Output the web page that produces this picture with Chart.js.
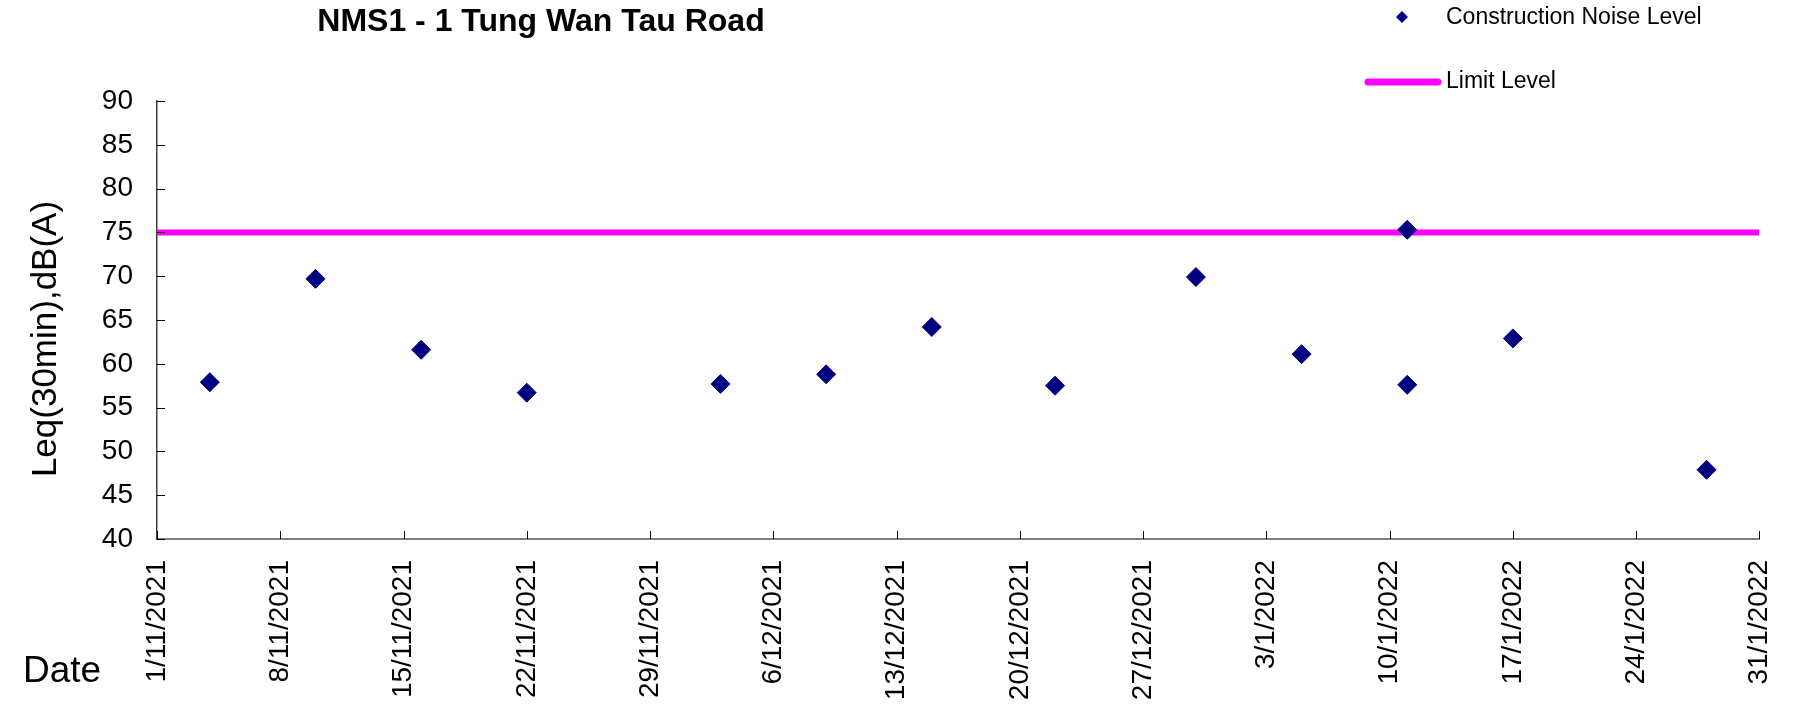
<!DOCTYPE html>
<html>
<head>
<meta charset="utf-8">
<title>NMS1 - 1 Tung Wan Tau Road</title>
<script src="https://cdn.jsdelivr.net/npm/chart.js"></script>
<style>
  html, body { margin: 0; padding: 0; background: #fff; }
</style>
</head>
<body>
<canvas id="noiseChart" width="1814" height="713"></canvas>
<script>
const chartTitle = 'NMS1 - 1 Tung Wan Tau Road';
const yTitle = 'Leq(30min),dB(A)';
const xTitle = 'Date';

// x axis ticks, one per week
const tickLabels = ['1/11/2021', '8/11/2021', '15/11/2021', '22/11/2021', '29/11/2021', '6/12/2021', '13/12/2021',
  '20/12/2021', '27/12/2021', '3/1/2022', '10/1/2022', '17/1/2022', '24/1/2022', '31/1/2022'];

// measured noise
const noiseLabel = 'Construction Noise Level';
const noiseDates = ['4/11/2021', '10/11/2021', '16/11/2021', '22/11/2021', '3/12/2021', '9/12/2021', '15/12/2021',
  '22/12/2021', '30/12/2021', '5/1/2022', '11/1/2022', '11/1/2022', '17/1/2022', '28/1/2022'];
const noiseValues = [57.9, 69.7, 61.6, 56.7, 57.7, 58.8, 64.2, 57.5, 69.9, 61.1, 75.3, 57.6, 62.9, 47.9];

// limit
const limitLabel = 'Limit Level';
const limitDates = ['1/11/2021', '31/1/2022'];
const limitValues = [75, 75];

const yMin = 40, yMax = 90, yStep = 5;

const FONT = '"Liberation Sans", Arial, sans-serif';
Chart.defaults.font.family = FONT;
Chart.defaults.color = '#000';

// days since first tick
function dayNo(s) {
    const p = s.split('/');
    const d0 = tickLabels[0].split('/');
    return (Date.UTC(+p[2], +p[1] - 1, +p[0]) - Date.UTC(+d0[2], +d0[1] - 1, +d0[0])) / 86400000;
}

const noisePoints = noiseDates.map((d, i) => ({ x: dayNo(d), y: noiseValues[i] }));
const limitPoints = limitDates.map((d, i) => ({ x: dayNo(d), y: limitValues[i] }));

const decor = {
    id: 'decor',
    afterDraw(chart) {
        const ctx = chart.ctx;
        const area = chart.chartArea;
        const xs = chart.scales.x;
        const ys = chart.scales.y;
        ctx.save();

        // tick marks pointing into the plot
        ctx.strokeStyle = '#000';
        ctx.lineWidth = 1;
        ctx.beginPath();
        xs.ticks.forEach(t => {
            const px = Math.round(xs.getPixelForValue(t.value)) + 0.5;
            ctx.moveTo(px, area.bottom);
            ctx.lineTo(px, area.bottom - 8);
        });
        ys.ticks.forEach(t => {
            const py = Math.round(ys.getPixelForValue(t.value)) + 0.5;
            ctx.moveTo(area.left, py);
            ctx.lineTo(area.left + 8, py);
        });
        ctx.stroke();

        ctx.fillStyle = '#000';
        ctx.textBaseline = 'alphabetic';

        // title
        ctx.font = 'bold 32px ' + FONT;
        ctx.textAlign = 'center';
        ctx.fillText(chartTitle, 541, 31);

        // x title
        ctx.font = '37px ' + FONT;
        ctx.textAlign = 'left';
        ctx.fillText(xTitle, 23, 682);

        // y title
        ctx.save();
        ctx.translate(46, 339);
        ctx.rotate(-Math.PI / 2);
        ctx.font = '35px ' + FONT;
        ctx.textAlign = 'center';
        ctx.textBaseline = 'middle';
        ctx.fillText(yTitle, 0, 0);
        ctx.restore();

        // legend
        const ds = chart.data.datasets;
        ctx.font = '23px ' + FONT;
        ctx.textAlign = 'left';
        ctx.textBaseline = 'middle';

        ctx.fillStyle = ds[0].backgroundColor;
        ctx.beginPath();
        ctx.moveTo(1402, 11);
        ctx.lineTo(1408, 17);
        ctx.lineTo(1402, 23);
        ctx.lineTo(1396, 17);
        ctx.closePath();
        ctx.fill();
        ctx.fillStyle = '#000';
        ctx.fillText(ds[0].label, 1446, 18);

        ctx.strokeStyle = ds[1].borderColor;
        ctx.lineWidth = 7;
        ctx.lineCap = 'round';
        ctx.beginPath();
        ctx.moveTo(1368, 82);
        ctx.lineTo(1438, 82);
        ctx.stroke();
        ctx.fillText(ds[1].label, 1446, 82);

        ctx.restore();
    }
};

const ctx = document.getElementById('noiseChart');

new Chart(ctx, {
    type: 'scatter',
    data: {
        datasets: [{
            label: noiseLabel,
            data: noisePoints,
            pointStyle: 'rectRot',
            pointRadius: 9.5,
            pointHoverRadius: 9.5,
            backgroundColor: '#000080',
            borderColor: '#000080',
            borderWidth: 1,
            showLine: false,
            order: 0
        }, {
            label: limitLabel,
            data: limitPoints,
            showLine: true,
            borderColor: '#ff00ff',
            backgroundColor: '#ff00ff',
            borderWidth: 6,
            pointRadius: 0,
            order: 1
        }]
    },
    options: {
        responsive: false,
        animation: false,
        layout: {
            padding: { top: 101, right: 49, left: 0, bottom: 0 }
        },
        plugins: {
            legend: { display: false },
            title: { display: false },
            tooltip: { enabled: false }
        },
        scales: {
            x: {
                type: 'linear',
                min: dayNo(tickLabels[0]),
                max: dayNo(tickLabels[tickLabels.length - 1]),
                afterBuildTicks: s => { s.ticks = tickLabels.map(t => ({ value: dayNo(t) })); },
                afterFit: s => { s.height = 174; },
                grid: { display: false, drawTicks: false },
                border: { color: '#808080', width: 2 },
                ticks: {
                    autoSkip: false,
                    minRotation: 90,
                    maxRotation: 90,
                    padding: 21,
                    font: { size: 28 },
                    callback: v => tickLabels.find(t => dayNo(t) === v)
                }
            },
            y: {
                min: yMin,
                max: yMax,
                afterFit: s => { s.width = 157; },
                grid: { display: false, drawTicks: false },
                border: { color: '#404040', width: 1.5 },
                ticks: {
                    stepSize: yStep,
                    padding: 24,
                    font: { size: 28 }
                }
            }
        }
    },
    plugins: [decor]
});
</script>
</body>
</html>
